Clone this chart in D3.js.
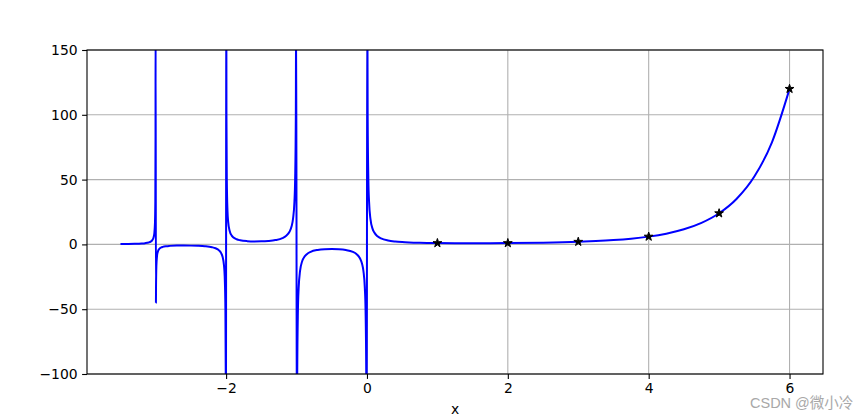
<!DOCTYPE html>
<html>
<head>
<meta charset="utf-8">
<script src="https://cdn.jsdelivr.net/npm/d3@7"></script>
<style>
  body { margin: 0; background: #fff; }
  svg text { font-family: "DejaVu Sans", sans-serif; }
</style>
</head>
<body>
<div class="chart"></div>
<script>
// gamma curve (poles at 0, -1, -2, -3)
var gammaX = [
  -3.5, -3.4, -3.3, -3.2, -3.15, -3.1, -3.07, -3.05, -3.03, -3.02, -3.01, -3.005, -3.002, -3.001,
  -2.9963, -2.995, -2.99, -2.98, -2.97, -2.95, -2.92, -2.9, -2.85, -2.8, -2.7, -2.6, -2.5, -2.4,
  -2.3, -2.2, -2.15, -2.1, -2.07, -2.05, -2.03, -2.02, -2.01, -2.005, -2.002,
  -1.998, -1.995, -1.99, -1.98, -1.97, -1.95, -1.92, -1.9, -1.85, -1.8, -1.7, -1.6, -1.5, -1.4,
  -1.3, -1.2, -1.15, -1.1, -1.07, -1.05, -1.03, -1.02, -1.01, -1.005,
  -0.995, -0.99, -0.98, -0.97, -0.95, -0.92, -0.9, -0.85, -0.8, -0.7, -0.6, -0.5, -0.4,
  -0.3, -0.2, -0.15, -0.1, -0.07, -0.05, -0.03, -0.02, -0.01, -0.005,
  0.005, 0.01, 0.02, 0.03, 0.05, 0.08, 0.1, 0.15, 0.2, 0.3, 0.4, 0.5, 0.6, 0.75,
  1, 1.25, 1.5, 1.75, 2, 2.5, 3, 3.25, 3.5, 3.75, 4, 4.25, 4.5, 4.75, 5, 5.25, 5.5, 5.75, 6
];
var gammaY = [
  0.270, 0.326, 0.439, 0.689, 0.952, 1.492, 2.195, 3.142, 5.355, 8.13, 16.46, 33.2, 83.2, 166,
  -45, -33.5, -16.88, -8.55, -5.777, -3.563, -2.326, -1.918, -1.388, -1.139, -0.931, -0.889, -0.945, -1.108,
  -1.447, -2.205, -3.0, -4.626, -6.744, -9.584, -16.23, -24.56, -49.55, -99.6, -249,
  250, 100.4, 50.47, 25.48, 17.16, 10.51, 6.79, 5.563, 3.956, 3.188, 2.514, 2.311, 2.363, 2.659,
  3.328, 4.851, 6.449, 9.715, 13.95, 19.65, 32.94, 49.6, 99.6, 199,
  -200, -100.4, -50.45, -33.8, -20.49, -13.04, -10.57, -7.318, -5.739, -4.274, -3.697, -3.545, -3.723,
  -4.327, -5.821, -7.417, -10.69, -14.93, -20.63, -33.93, -50.59, -100.6, -201,
  199.4, 99.43, 49.44, 32.79, 19.47, 12.0, 9.514, 6.22, 4.591, 2.992, 2.218, 1.772, 1.489, 1.225,
  1, 0.906, 0.886, 0.919, 1, 1.329, 2, 2.549, 3.323, 4.423, 6, 8.285, 11.63, 16.59, 24, 35.21, 52.34, 78.78, 120
];

// factorial points (star markers)
var starX = [1, 2, 3, 4, 5, 6];
var starY = [1, 1, 2, 6, 24, 120];

var xTicks = [-2, 0, 2, 4, 6];
var yTicks = [-100, -50, 0, 50, 100, 150];

var svgWidth = 865;
var svgHeight = 420;

var margin = { top: 50, right: 42, bottom: 46, left: 87 };
var width = svgWidth - margin.left - margin.right;
var height = svgHeight - margin.top - margin.bottom;

var svg = d3.select(".chart")
  .append("svg")
  .attr("width", svgWidth)
  .attr("height", svgHeight);

var chartGroup = svg.append("g")
  .attr("transform", `translate(${margin.left}, ${margin.top})`);

var xScale = d3.scaleLinear()
  .domain([-3.975, 6.475])
  .range([0, width]);

var yScale = d3.scaleLinear()
  .domain([-100, 150])
  .range([height, 0]);

// grid
chartGroup.append("g")
  .selectAll("line")
  .data(xTicks)
  .enter()
  .append("line")
  .attr("x1", d => xScale(d))
  .attr("x2", d => xScale(d))
  .attr("y1", 0)
  .attr("y2", height)
  .attr("stroke", "#b0b0b0")
  .attr("stroke-width", 1.1);

chartGroup.append("g")
  .selectAll("line")
  .data(yTicks)
  .enter()
  .append("line")
  .attr("x1", 0)
  .attr("x2", width)
  .attr("y1", d => yScale(d))
  .attr("y2", d => yScale(d))
  .attr("stroke", "#b0b0b0")
  .attr("stroke-width", 1.1);

// clip
svg.append("defs").append("clipPath")
  .attr("id", "plotClip")
  .append("rect")
  .attr("width", width)
  .attr("height", height);

var points = gammaX.map((x, i) => [x, gammaY[i]]);

var line = d3.line()
  .x(d => xScale(d[0]))
  .y(d => yScale(d[1]))
  .curve(d3.curveMonotoneX);

chartGroup.append("path")
  .datum(points)
  .attr("clip-path", "url(#plotClip)")
  .attr("d", line)
  .attr("fill", "none")
  .attr("stroke", "#0000ff")
  .attr("stroke-width", 2)
  .attr("stroke-linejoin", "round");

// stars
var star = d3.symbol().type(d3.symbolStar).size(24);
chartGroup.append("g")
  .selectAll("path")
  .data(starX)
  .enter()
  .append("path")
  .attr("transform", (d, i) => `translate(${xScale(d)}, ${yScale(starY[i])})`)
  .attr("d", star)
  .attr("fill", "#000")
  .attr("stroke", "#000")
  .attr("stroke-width", 1);

// axes
var bottomAxis = d3.axisBottom(xScale).tickValues(xTicks).tickSize(4.9).tickPadding(4.5).tickSizeOuter(0);
var leftAxis = d3.axisLeft(yScale).tickValues(yTicks).tickSize(4.9).tickPadding(4.5).tickSizeOuter(0);

var xAxisG = chartGroup.append("g")
  .attr("transform", `translate(0, ${height})`)
  .call(bottomAxis);

var yAxisG = chartGroup.append("g")
  .call(leftAxis);

[xAxisG, yAxisG].forEach(g => {
  g.select(".domain").remove();
  g.selectAll(".tick line").attr("stroke", "#000").attr("stroke-width", 1.1);
  g.selectAll(".tick text")
    .attr("fill", "#000")
    .style("font-family", "'DejaVu Sans', sans-serif")
    .style("font-size", "13.9px");
});

// frame
chartGroup.append("rect")
  .attr("width", width)
  .attr("height", height)
  .attr("fill", "none")
  .attr("stroke", "#000")
  .attr("stroke-width", 1.1);

// axis label
chartGroup.append("text")
  .attr("x", width / 2)
  .attr("y", height + 40)
  .attr("text-anchor", "middle")
  .style("font-size", "13.9px")
  .text("x");

// watermark
svg.append("text")
  .attr("x", 750)
  .attr("y", 408)
  .style("font-family", "'Liberation Sans', 'Noto Sans CJK SC', sans-serif")
  .style("font-size", "14.5px")
  .attr("fill", "#a8a8a8")
  .text("CSDN @微小冷");
</script>
</body>
</html>
